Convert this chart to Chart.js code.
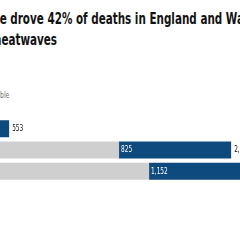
<!DOCTYPE html>
<html>
<head>
<meta charset="utf-8">
<script src="https://cdn.jsdelivr.net/npm/chart.js@4"></script>
<style>
  html, body { margin: 0; padding: 0; background: #fff; overflow: hidden; }
  body { width: 240px; height: 240px; position: relative; }
  .title { position: absolute; white-space: nowrap; font-family: 'DejaVu Sans Condensed', sans-serif; font-weight: bold; font-size: 15px; color: #121212; line-height: 21px; transform-origin: 0 0; transform: scaleX(0.77); }
  .legend { position: absolute; white-space: nowrap; font-family: 'DejaVu Sans Condensed', sans-serif; font-size: 9px; color: #707070; transform-origin: 0 0; transform: scaleX(0.75); }
  #wrap { position: absolute; left: -100px; top: 118px; width: 500px; height: 64px; }
</style>
</head>
<body>
<div class="title" id="t1" style="top:9px"><span class="pre">Climate chang</span>e drove 42% of deaths in England and Wales</div>
<div class="title" id="t2" style="top:30px"><span class="pre">during h</span>eatwaves</div>
<div class="legend" id="lg" style="top:90px"><span class="pre">Not attributa</span>ble</div>
<div id="wrap"><canvas id="chart"></canvas></div>
<script>
const rows = ['2022', '2023', '2024'];
const notAttributable = [253, 1362, 1583];
const attributable = [300, 825, 1152];
const totals = [553, 2187, 2735];

const navy = '#0f4a7f';
const grey = '#cfcfcf';

// the reference is a crop: move each text so its visible part starts at x
function shift(id, x) {
  const el = document.getElementById(id);
  const w = el.querySelector('.pre').getBoundingClientRect().width;
  el.style.left = (x - w) + 'px';
}
shift('t1', 0);
shift('t2', 1);
shift('lg', 0);

const fmt = v => v.toLocaleString('en-GB');

// narrow text, like the condensed face of the original
function narrowText(ctx, text, x, y) {
  ctx.save();
  ctx.translate(x, y);
  ctx.scale(0.72, 1);
  ctx.fillText(text, 0, 0);
  ctx.restore();
}

const labelPlugin = {
  id: 'barLabels',
  afterDatasetsDraw(chart) {
    const ctx = chart.ctx;
    ctx.save();
    ctx.font = '9px "DejaVu Sans Condensed", sans-serif';
    ctx.textBaseline = 'middle';
    ctx.textAlign = 'left';
    chart.getDatasetMeta(1).data.forEach((bar, i) => {
      ctx.fillStyle = '#fff';
      narrowText(ctx, fmt(attributable[i]), bar.base + 2, bar.y);
      ctx.fillStyle = '#121212';
      narrowText(ctx, fmt(totals[i]), bar.x + 3, bar.y);
    });
    ctx.restore();
  }
};

new Chart(document.getElementById('chart'), {
  type: 'bar',
  data: {
    labels: rows,
    datasets: [
      { label: 'Not attributable', data: notAttributable, backgroundColor: grey },
      { label: 'Attributable', data: attributable, backgroundColor: navy }
    ]
  },
  options: {
    indexAxis: 'y',
    responsive: true,
    maintainAspectRatio: false,
    animation: false,
    layout: { padding: { left: 34, right: 0, top: 0, bottom: 0 } },
    datasets: { bar: { categoryPercentage: 1, barPercentage: 0.8, borderWidth: 0 } },
    plugins: { legend: { display: false }, tooltip: { enabled: false } },
    scales: {
      x: { stacked: true, min: 0, max: 3430, display: false },
      y: { stacked: true, display: false }
    }
  },
  plugins: [labelPlugin]
});
</script>
</body>
</html>
